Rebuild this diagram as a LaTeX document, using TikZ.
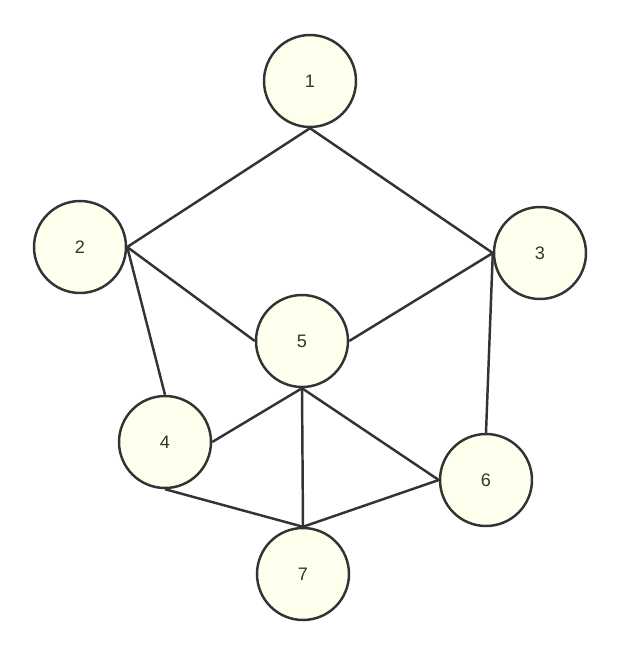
\documentclass[tikz,border=0pt]{standalone}
\usepackage{fontspec}
\setmainfont{Liberation Sans}
\usepackage{xcolor}
\usepackage{tikz}
\definecolor{vertexfill}{HTML}{FEFFEC}
\definecolor{inkgray}{HTML}{333333}

\begin{document}
\begin{tikzpicture}[x=0.02cm,y=-0.02cm,
  vertex/.style={circle,draw=inkgray,fill=vertexfill,line width=1.4pt,minimum size=1.84cm,inner sep=0pt,
    text=inkgray,font=\fontsize{10.3}{12}\selectfont},
  edge/.style={draw=inkgray,line width=1.4pt}]
\useasboundingbox (0,0) rectangle (621,656);
% vertices
\node[vertex] (v1) at (310,81) {1};
\node[vertex] (v2) at (80,247) {2};
\node[vertex] (v3) at (540,253) {3};
\node[vertex] (v5) at (302,341) {5};
\node[vertex] (v4) at (165,442) {4};
\node[vertex] (v6) at (486,480) {6};
\node[vertex] (v7) at (303,574) {7};
% edges, anchor to anchor
\draw[edge] (v1.south) -- (v2.east);
\draw[edge] (v1.south) -- (v3.west);
\draw[edge] (v2.east) -- (v5.west);
\draw[edge] (v2.east) -- (v4.north);
\draw[edge] (v3.west) -- (v5.east);
\draw[edge] (v3.west) -- (v6.north);
\draw[edge] (v5.south) -- (v4.east);
\draw[edge] (v5.south) -- (v7.north);
\draw[edge] (v5.south) -- (v6.west);
\draw[edge] (v4.south) -- (v7.north);
\draw[edge] (v6.west) -- (v7.north);
\end{tikzpicture}
\end{document}
